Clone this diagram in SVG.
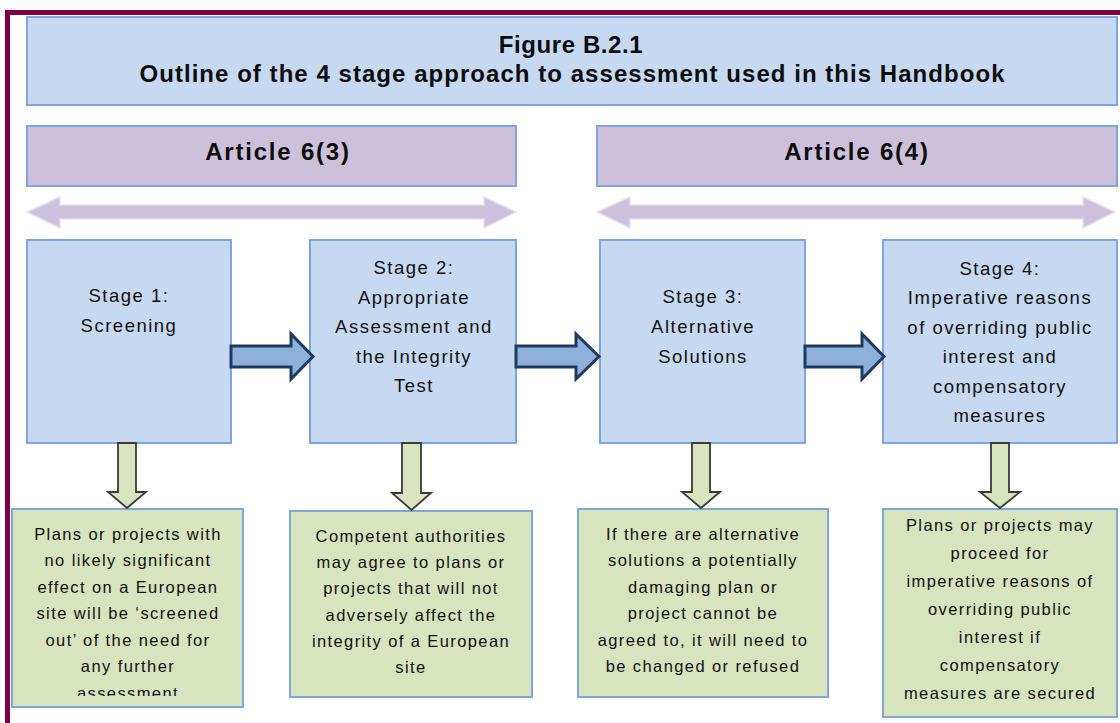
<svg xmlns="http://www.w3.org/2000/svg" width="1120" height="723" viewBox="0 0 1120 723">
<defs>
<style>
.frame{fill:none;stroke:#7a0048;stroke-width:5}
.title{fill:#c6d9f1;stroke:#7ea6dc;stroke-width:2}
.art{fill:#ccc0da;stroke:#7ea6dc;stroke-width:2}
.stage{fill:#c6d9f1;stroke:#7ea6dc;stroke-width:2}
.res{fill:#d7e4bd;stroke:#7ea6dc;stroke-width:2}
.lav{fill:#ccc0da;stroke:#e6e0ee;stroke-width:1.5}
.blk{fill:#8fb0d8;stroke:#1f3a5f;stroke-width:3;stroke-linejoin:miter}
.down{fill:#d7e4bd;stroke:#3a3a3a;stroke-width:1.8;stroke-linejoin:miter}
.tt{font-family:"Liberation Sans",Arial,sans-serif;font-weight:bold;font-size:24px;fill:#0d0d0d;text-anchor:middle}
.st{font-family:"Liberation Sans",Arial,sans-serif;font-size:18.5px;fill:#111;text-anchor:middle;letter-spacing:1.5px}
.rt{font-family:"Liberation Sans",Arial,sans-serif;font-size:16.5px;fill:#111;text-anchor:middle;letter-spacing:1.4px}
</style>
<clipPath id="clip1"><rect x="12" y="509" width="231" height="187"/></clipPath>
</defs>
<rect class="frame" x="7.5" y="12.5" width="1120" height="720"/>

<g id="title">
<rect class="title" x="27" y="17" width="1090" height="88"/>
<text class="tt" x="571" y="53" letter-spacing="0.6">Figure B.2.1</text>
<text class="tt" x="572" y="82" textLength="865" lengthAdjust="spacing">Outline of the 4 stage approach to assessment used in this Handbook</text>
</g>

<g id="article63">
<rect class="art" x="27" y="126" width="489" height="60"/>
<text class="tt" x="278" y="160" letter-spacing="1.8">Article 6(3)</text>
</g>
<g id="article64">
<rect class="art" x="597" y="126" width="520" height="60"/>
<text class="tt" x="857" y="160" letter-spacing="1.8">Article 6(4)</text>
</g>

<g id="stage1">
<rect class="stage" x="27" y="240" width="204" height="203"/>
<text class="st" x="129" y="302">Stage 1:</text>
<text class="st" x="129" y="332">Screening</text>
</g>
<g id="stage2">
<rect class="stage" x="310" y="240" width="206" height="203"/>
<text class="st" x="414" y="274">Stage 2:</text>
<text class="st" x="414" y="303.5">Appropriate</text>
<text class="st" x="414" y="333">Assessment and</text>
<text class="st" x="414" y="362.5">the Integrity</text>
<text class="st" x="414" y="392">Test</text>
</g>
<g id="stage3">
<rect class="stage" x="600" y="240" width="205" height="203"/>
<text class="st" x="703" y="303">Stage 3:</text>
<text class="st" x="703" y="333">Alternative</text>
<text class="st" x="703" y="363">Solutions</text>
</g>
<g id="stage4">
<rect class="stage" x="883" y="240" width="234" height="203"/>
<text class="st" x="1000" y="275">Stage 4:</text>
<text class="st" x="1000" y="304">Imperative reasons</text>
<text class="st" x="1000" y="333.5">of overriding public</text>
<text class="st" x="1000" y="363">interest and</text>
<text class="st" x="1000" y="392.5">compensatory</text>
<text class="st" x="1000" y="422">measures</text>
</g>

<g id="result1">
<rect class="res" x="12" y="509" width="231" height="198"/>
<g clip-path="url(#clip1)">
<text class="rt" x="128" y="540">Plans or projects with</text>
<text class="rt" x="128" y="566.4">no likely significant</text>
<text class="rt" x="128" y="592.8">effect on a European</text>
<text class="rt" x="128" y="619.2">site will be ‘screened</text>
<text class="rt" x="128" y="645.6">out’ of the need for</text>
<text class="rt" x="128" y="672">any further</text>
<text class="rt" x="128" y="699">assessment</text>
</g>
</g>
<g id="result2">
<rect class="res" x="290" y="511" width="242" height="186"/>
<text class="rt" x="411" y="542">Competent authorities</text>
<text class="rt" x="411" y="568.2">may agree to plans or</text>
<text class="rt" x="411" y="594.4">projects that will not</text>
<text class="rt" x="411" y="620.6">adversely affect the</text>
<text class="rt" x="411" y="646.8">integrity of a European</text>
<text class="rt" x="411" y="673">site</text>
</g>
<g id="result3">
<rect class="res" x="578" y="509" width="250" height="188"/>
<text class="rt" x="703" y="540">If there are alternative</text>
<text class="rt" x="703" y="566.4">solutions a potentially</text>
<text class="rt" x="703" y="592.8">damaging plan or</text>
<text class="rt" x="703" y="619.2">project cannot be</text>
<text class="rt" x="703" y="645.6">agreed to, it will need to</text>
<text class="rt" x="703" y="672">be changed or refused</text>
</g>
<g id="result4">
<rect class="res" x="883" y="509" width="234" height="208"/>
<text class="rt" x="1000" y="531">Plans or projects may</text>
<text class="rt" x="1000" y="559">proceed for</text>
<text class="rt" x="1000" y="587">imperative reasons of</text>
<text class="rt" x="1000" y="615">overriding public</text>
<text class="rt" x="1000" y="643">interest if</text>
<text class="rt" x="1000" y="671">compensatory</text>
<text class="rt" x="1000" y="699">measures are secured</text>
</g>

<g id="connectors">
<polygon class="lav" points="27,212 60,197 60,205 484,205 484,197 516,212 484,228 484,219 60,219 60,228"/>
<polygon class="lav" points="597,212 630,197 630,205 1083,205 1083,197 1115,212 1083,228 1083,219 630,219 630,228"/>
<polygon class="blk" points="231,346 291,346 291,334 313,356.5 291,379 291,367 231,367"/>
<polygon class="blk" points="516,346 576,346 576,334 599,356.5 576,379 576,367 516,367"/>
<polygon class="blk" points="805,346 862,346 862,334 884,356.5 862,379 862,367 805,367"/>
<polygon class="down" points="118,443 136,443 136,492 146,492 127,508 108,492 118,492"/>
<polygon class="down" points="402,443 421,443 421,493 431,493 411.5,510 392,493 402,493"/>
<polygon class="down" points="692,443 710,443 710,492 720,492 701,508 682,492 692,492"/>
<polygon class="down" points="991,443 1009,443 1009,492 1020,492 1000,508 980,492 991,492"/>
</g>
</svg>
